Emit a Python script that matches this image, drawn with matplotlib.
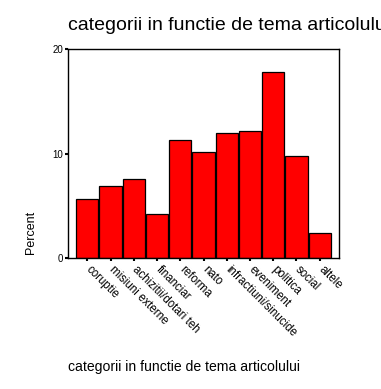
import matplotlib
matplotlib.use("Agg")
import matplotlib.pyplot as plt
import matplotlib.transforms as mtransforms
import numpy as np

plt.rcParams['font.family'] = ['Liberation Sans', 'DejaVu Sans']

categories = ["coruptie", "misiuni externe", "achizitii/dotari teh", "financiar",
              "reforma", "nato", "infractiuni/sinucide", "eveniment",
              "politica", "social", "altele"]
percent = [5.6, 6.9, 7.6, 4.2, 11.3, 10.1, 12.0, 12.2, 17.8, 9.8, 2.4]
yticks = [0, 10, 20]

W, H = 381, 389
fig = plt.figure(figsize=(W / 100, H / 100), dpi=100)
ax = fig.add_axes([68 / W, 1 - 258 / H, (339 - 68) / W, (258 - 49) / H])

x = np.arange(len(categories))
ax.bar(x, percent, width=0.95, color='#ff0000', edgecolor='black', linewidth=0.9)
ax.set_xlim(-0.83, len(categories) - 1 + 0.83)
ax.set_ylim(0, 20)
ax.set_yticks(yticks)
ax.set_yticklabels([str(t) for t in yticks], fontsize=7)
ax.set_xticks(x)
ax.set_xticklabels(categories, rotation=-45, ha='left', va='top',
                   rotation_mode='anchor', fontsize=8.3)
ax.tick_params(axis='both', direction='out', length=2.5, width=1.5, pad=1.5)
ax.tick_params(axis='y', pad=1)
offset = mtransforms.ScaledTranslation(5 / 100, 0, fig.dpi_scale_trans)
for lab in ax.get_xticklabels():
    lab.set_transform(lab.get_transform() + offset)
for s in ax.spines.values():
    s.set_linewidth(1.0)

fig.text(68 / W, 1 - 26 / H, "categorii in functie de tema articolului",
         fontsize=14, ha='left', va='center')
fig.text(68 / W, 1 - 367 / H, "categorii in functie de tema articolului",
         fontsize=10.1, ha='left', va='center')
fig.text(31 / W, 1 - 232 / H, "Percent", fontsize=9, rotation=90,
         ha='center', va='center')

fig.savefig("out.png", dpi=100)
